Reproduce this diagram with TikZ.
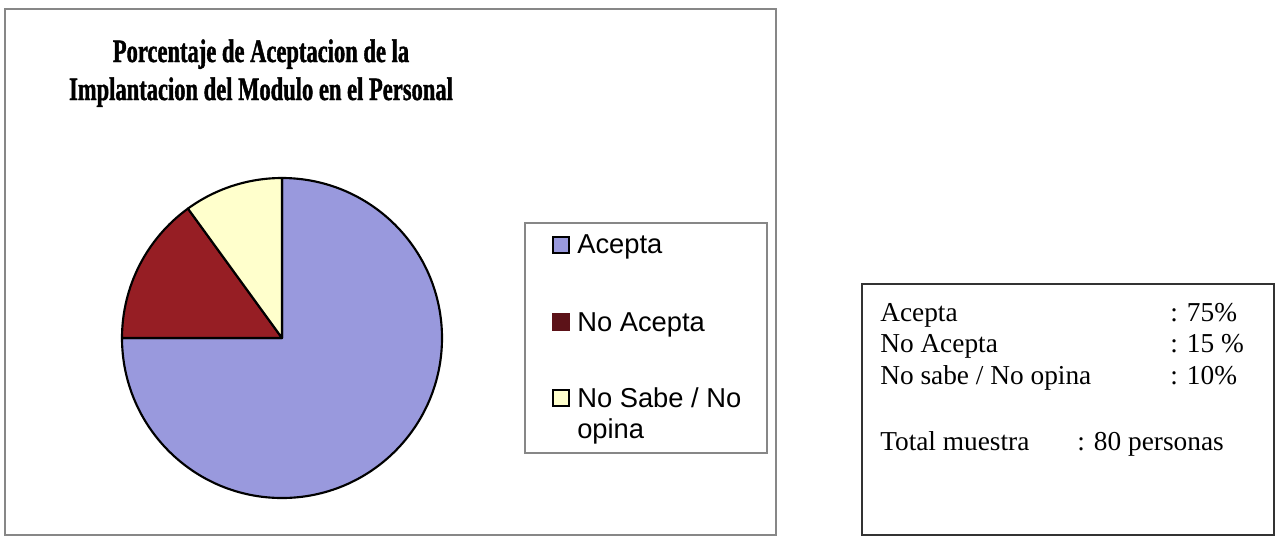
\documentclass[tikz,border=0pt]{standalone}
\usepackage{fontspec}
\setmainfont{Liberation Serif}
\setsansfont{Liberation Sans}
\newfontfamily\titlefont{Liberation Serif}[FakeStretch=0.69,FakeBold=1.2]

\definecolor{acepta}{RGB}{153,153,221}
\definecolor{noacepta}{RGB}{150,30,36}
\definecolor{noaceptakey}{RGB}{92,18,24}
\definecolor{nosabe}{RGB}{255,255,204}
\definecolor{framegray}{RGB}{135,135,135}

\tikzset{
  slice/.style={draw=black, line width=1.6pt, line join=round},
  legkey/.style={draw=black, line width=1.5pt, minimum size=12pt, inner sep=0pt},
  legtext/.style={font=\sffamily\fontsize{20.5}{24}\selectfont, anchor=base west, inner sep=0pt},
  tabtext/.style={font=\fontsize{20.5}{24}\selectfont, anchor=base west, inner sep=0pt},
}

\begin{document}
\begin{tikzpicture}[x=0.75pt,y=0.75pt,yscale=-1]
\useasboundingbox (0,0) rectangle (1277,537);

%Shape: Rectangle [chart frame]
\draw [framegray, line width=1pt] (5,9) rectangle (776,535);

% Text Node
\node (title1) [font=\titlefont\bfseries\fontsize{24.5}{28}\selectfont, anchor=base, inner sep=0pt] at (261,62) {Porcentaje de Aceptacion de la};
% Text Node
\node (title2) [font=\titlefont\bfseries\fontsize{24.5}{28}\selectfont, anchor=base, inner sep=0pt] at (261,100) {Implantacion del Modulo en el Personal};

%Shape: Pie
\coordinate (pc) at (282,338);
\begin{scope}[shift={(pc)}, yscale=-1]
\draw [slice, fill=acepta] (0,0) -- (90:160) arc [start angle=90, end angle=-180, radius=160] -- cycle;
\draw [slice, fill=noacepta] (0,0) -- (180:160) arc [start angle=180, end angle=126, radius=160] -- cycle;
\draw [slice, fill=nosabe] (0,0) -- (126:160) arc [start angle=126, end angle=90, radius=160] -- cycle;
\end{scope}

%Shape: Rectangle [legend frame]
\draw [framegray, line width=1.2pt] (525,223) rectangle (767,453);

% Legend keys
\node (keyacepta) [legkey, fill=acepta] at (561,245) {};
\node (keynoacepta) [legkey, draw=noaceptakey, fill=noaceptakey] at (561,322) {};
\node (keynosabe) [legkey, fill=nosabe] at (561,398) {};

% Text Node
\node (legacepta) [legtext] at (577,253) {Acepta};
% Text Node
\node (legnoacepta) [legtext] at (577,331) {No Acepta};
% Text Node
\node (legnosabe) [legtext] at (577,407) {No Sabe / No};
% Text Node
\node (legopina) [legtext] at (577,438) {opina};

%Shape: Rectangle [summary box]
\draw [black!80, line width=1.6pt] (862,284) rectangle (1274,535);

% Text Node
\node (rowacepta) [tabtext] at (880,321) {Acepta};
\node (valacepta) [tabtext] at (1170,321) {: 75\%};
% Text Node
\node (rownoacepta) [tabtext] at (880,352) {No Acepta};
\node (valnoacepta) [tabtext] at (1170,352) {: 15 \%};
% Text Node
\node (rownosabe) [tabtext] at (880,384) {No sabe / No opina};
\node (valnosabe) [tabtext] at (1170,384) {: 10\%};
% Text Node
\node (rowtotal) [tabtext] at (880,450) {Total muestra};
\node (valtotal) [tabtext] at (1077,450) {: 80 personas};

\end{tikzpicture}
\end{document}
